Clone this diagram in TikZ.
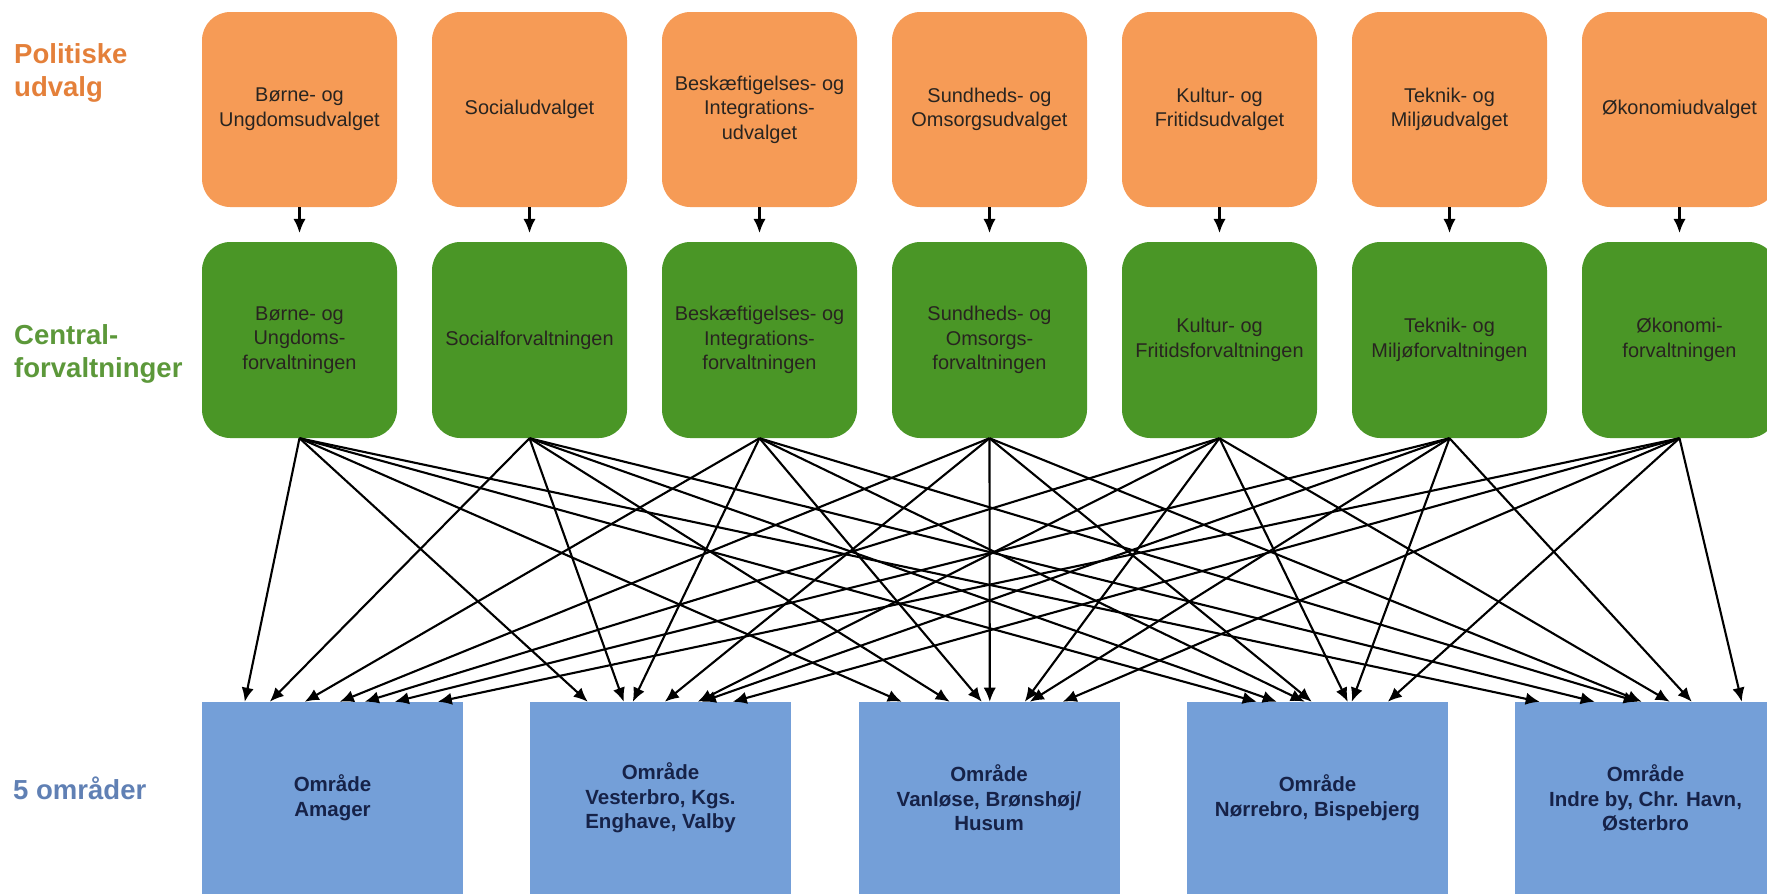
\documentclass[tikz,border=0pt]{standalone}
\usepackage{fontspec}
\setmainfont{Liberation Sans}
\usetikzlibrary{arrows.meta,calc}
\definecolor{udvalgorange}{RGB}{246,155,86}
\definecolor{forvgreen}{RGB}{74,150,38}
\definecolor{omraadeblue}{RGB}{116,159,216}
\definecolor{labelorange}{RGB}{228,128,58}
\definecolor{labelgreen}{RGB}{92,152,58}
\definecolor{labelblue}{RGB}{96,128,180}
\definecolor{boxtext}{RGB}{40,36,32}
\definecolor{omraadetext}{RGB}{22,34,72}

\begin{document}
\begin{tikzpicture}[font=\fontsize{17}{21}\selectfont, x=0.3mm, y=-0.3mm]
%% all positions are given in pixels of the original drawing (y grows downwards)
%% the figure can be scaled by changing x and y
\tikzstyle{arc}=[-{Latex[length=12pt,width=10.5pt]},line width=1.8pt]
\tikzstyle{udvalg}=[rectangle,rounded corners=8.5mm,fill=udvalgorange,text=boxtext,minimum width=58.5mm,minimum height=58.5mm,align=center,inner sep=0pt]
\tikzstyle{forvaltning}=[udvalg,fill=forvgreen,minimum height=58.8mm]
\tikzstyle{omraade}=[rectangle,fill=omraadeblue,text=omraadetext,minimum width=78.3mm,minimum height=57.6mm,align=center,inner sep=0pt,font=\fontsize{17.5}{21}\selectfont\bfseries]
\tikzstyle{rowlabel}=[anchor=west,align=left,inner sep=0pt,font=\fontsize{23.5}{28}\selectfont\bfseries]
\useasboundingbox (0,0) rectangle (1767,894);
%% row labels %%
\node[rowlabel,text=labelorange] at (14,73) (PolLabel) {Politiske\\udvalg};
\node[rowlabel,text=labelgreen] at (14,354) (CentralLabel) {Central-\\forvaltninger};
\node[rowlabel,text=labelblue] at (13,788) (OmrLabel) {5 områder};
%% politiske udvalg %%
\node[udvalg] at (299.5,109.5) (BoerneUdv) {Børne- og\\Ungdomsudvalget};
\node[udvalg] at (529.5,109.5) (SocialUdv) {Socialudvalget};
\node[udvalg] at (759.5,109.5) (BeskUdv) {Beskæftigelses- og\\Integrations-\\udvalget};
\node[udvalg] at (989.5,109.5) (SundUdv) {Sundheds- og\\Omsorgsudvalget};
\node[udvalg] at (1219.5,109.5) (KulturUdv) {Kultur- og\\Fritidsudvalget};
\node[udvalg] at (1449.5,109.5) (TeknikUdv) {Teknik- og\\Miljøudvalget};
\node[udvalg] at (1679.5,109.5) (OekonomiUdv) {Økonomiudvalget};
%% centralforvaltninger %%
\node[forvaltning] at (299.5,340) (BoerneForv) {Børne- og\\Ungdoms-\\forvaltningen};
\node[forvaltning] at (529.5,340) (SocialForv) {Socialforvaltningen};
\node[forvaltning] at (759.5,340) (BeskForv) {Beskæftigelses- og\\Integrations-\\forvaltningen};
\node[forvaltning] at (989.5,340) (SundForv) {Sundheds- og\\Omsorgs-\\forvaltningen};
\node[forvaltning] at (1219.5,340) (KulturForv) {Kultur- og\\Fritidsforvaltningen};
\node[forvaltning] at (1449.5,340) (TeknikForv) {Teknik- og\\Miljøforvaltningen};
\node[forvaltning] at (1679.5,340) (OekonomiForv) {Økonomi-\\forvaltningen};
%% 5 omraader %%
\node[omraade] at (332.5,798) (Amager) {Område\\Amager};
\node[omraade] at (660.5,798) (Vesterbro) {Område\\Vesterbro, Kgs.\\Enghave, Valby};
\node[omraade] at (989,798) (Vanloese) {Område\\Vanløse, Brønshøj/\\Husum};
\node[omraade] at (1317.5,798) (Noerrebro) {Område\\Nørrebro, Bispebjerg};
\node[omraade] at (1645.5,798) (IndreBy) {Område\\Indre by, Chr. Havn,\\Østerbro};
%% arcs from udvalg to forvaltning %%
\draw[arc,shorten >=7.5pt] (BoerneUdv.south) to (BoerneForv.north);
\draw[arc,shorten >=7.5pt] (SocialUdv.south) to (SocialForv.north);
\draw[arc,shorten >=7.5pt] (BeskUdv.south) to (BeskForv.north);
\draw[arc,shorten >=7.5pt] (SundUdv.south) to (SundForv.north);
\draw[arc,shorten >=7.5pt] (KulturUdv.south) to (KulturForv.north);
\draw[arc,shorten >=7.5pt] (TeknikUdv.south) to (TeknikForv.north);
\draw[arc,shorten >=7.5pt] (OekonomiUdv.south) to (OekonomiForv.north);
%% arcs from BoerneForv %%
\draw[arc] (BoerneForv.south) to ($(Amager.north west)+(43,0)$);
\draw[arc] (BoerneForv.south) to ($(Vesterbro.north west)+(58,0)$);
\draw[arc] (BoerneForv.south) to ($(Vanloese.north west)+(43.5,0)$);
\draw[arc] (BoerneForv.south) to ($(Noerrebro.north west)+(70,0)$);
\draw[arc] (BoerneForv.south) to ($(IndreBy.north west)+(25,0)$);
%% arcs from SocialForv %%
\draw[arc] (SocialForv.south) to ($(Amager.north west)+(68,0)$);
\draw[arc] (SocialForv.south) to ($(Vesterbro.north west)+(94,0)$);
\draw[arc] (SocialForv.south) to ($(Vanloese.north west)+(91.5,0)$);
\draw[arc] (SocialForv.south) to ($(Noerrebro.north west)+(90,0)$);
\draw[arc] (SocialForv.south) to ($(IndreBy.north west)+(80,0)$);
%% arcs from BeskForv %%
\draw[arc] (BeskForv.south) to ($(Amager.north west)+(103,0)$);
\draw[arc] (BeskForv.south) to ($(Vesterbro.north west)+(103,0)$);
\draw[arc] (BeskForv.south) to ($(Vanloese.north west)+(123.5,0)$);
\draw[arc] (BeskForv.south) to ($(Noerrebro.north west)+(118,0)$);
\draw[arc] (BeskForv.south) to ($(IndreBy.north west)+(123,0)$);
%% arcs from SundForv %%
\draw[arc] (SundForv.south) to ($(Amager.north west)+(138,0)$);
\draw[arc] (SundForv.south) to ($(Vesterbro.north west)+(135,0)$);
\draw[arc] (SundForv.south) to ($(Vanloese.north west)+(131.5,0)$);
\draw[arc] (SundForv.south) to ($(Noerrebro.north west)+(125,0)$);
\draw[arc] (SundForv.south) to ($(IndreBy.north west)+(127,0)$);
%% arcs from KulturForv %%
\draw[arc] (KulturForv.south) to ($(Amager.north west)+(163,0)$);
\draw[arc] (KulturForv.south) to ($(Vesterbro.north west)+(168,0)$);
\draw[arc] (KulturForv.south) to ($(Vanloese.north west)+(166.5,0)$);
\draw[arc] (KulturForv.south) to ($(Noerrebro.north west)+(161,0)$);
\draw[arc] (KulturForv.south) to ($(IndreBy.north west)+(155,0)$);
%% arcs from TeknikForv %%
\draw[arc] (TeknikForv.south) to ($(Amager.north west)+(193,0)$);
\draw[arc] (TeknikForv.south) to ($(Vesterbro.north west)+(172,0)$);
\draw[arc] (TeknikForv.south) to ($(Vanloese.north west)+(171.5,0)$);
\draw[arc] (TeknikForv.south) to ($(Noerrebro.north west)+(165,0)$);
\draw[arc] (TeknikForv.south) to ($(IndreBy.north west)+(177,0)$);
%% arcs from OekonomiForv %%
\draw[arc] (OekonomiForv.south) to ($(Amager.north west)+(236,0)$);
\draw[arc] (OekonomiForv.south) to ($(Vesterbro.north west)+(203,0)$);
\draw[arc] (OekonomiForv.south) to ($(Vanloese.north west)+(204.5,0)$);
\draw[arc] (OekonomiForv.south) to ($(Noerrebro.north west)+(201,0)$);
\draw[arc] (OekonomiForv.south) to ($(IndreBy.north west)+(227,0)$);
\end{tikzpicture}
\end{document}
